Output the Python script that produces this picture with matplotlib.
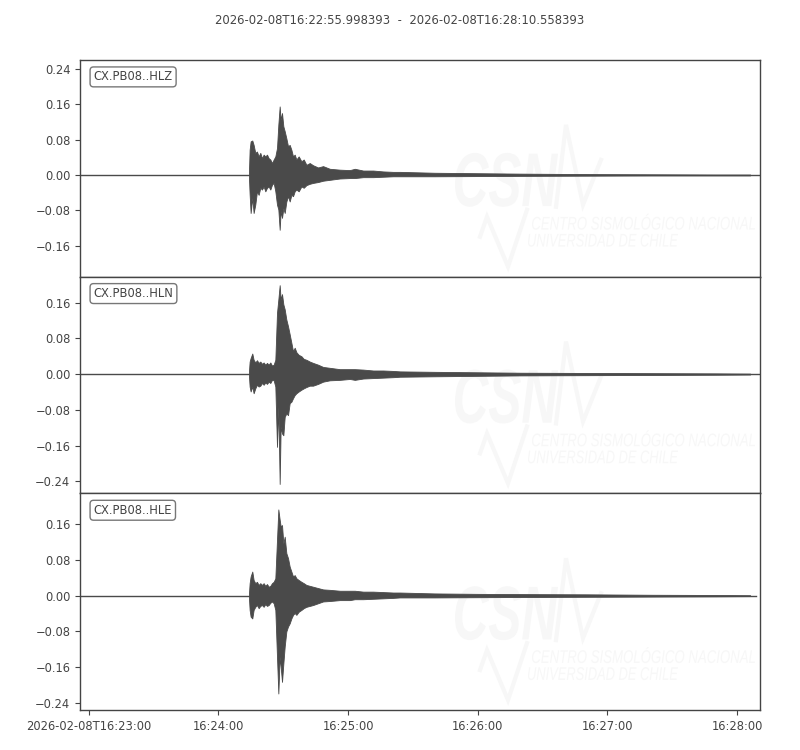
import matplotlib
matplotlib.use("Agg")
import matplotlib.pyplot as plt
from matplotlib.textpath import TextPath
from matplotlib.patches import PathPatch
from matplotlib.font_manager import FontProperties
from matplotlib.transforms import Affine2D
from matplotlib.ticker import FuncFormatter

# ---------------- data (seconds relative to 16:23:00) ----------------
title = "2026-02-08T16:22:55.998393  -  2026-02-08T16:28:10.558393"
channels = ["CX.PB08..HLZ", "CX.PB08..HLN", "CX.PB08..HLE"]
trace_start = [-4.0, -4.0, -4.0]
trace_end = [310.56, 310.56, 308.8]

times_s = [74.16, 74.47, 74.93, 75.70, 76.32, 77.09, 77.86, 78.64, 79.41, 80.18,
           80.95, 81.73, 82.50, 83.27, 84.04, 84.82, 85.59, 86.36, 87.13, 87.75,
           88.37, 88.83, 89.45, 90.07, 90.69, 91.46, 92.23, 93.00, 93.78, 94.55,
           95.32, 96.09, 97.17, 98.41, 99.49, 100.73, 102.27, 103.81, 106.13, 108.45,
           111.54, 116.17, 120.81, 123.12, 126.98, 131.62, 136.25, 140.88, 143.98,
           160.0, 180.0, 200.0, 230.0, 260.0, 290.0, 306.0]

hlz_upper = [0.008, 0.057, 0.076, 0.078, 0.068, 0.050, 0.053, 0.042, 0.050, 0.038,
             0.046, 0.042, 0.046, 0.038, 0.035, 0.027, 0.035, 0.042, 0.061, 0.114,
             0.155, 0.125, 0.140, 0.110, 0.099, 0.083, 0.065, 0.068, 0.057, 0.042,
             0.046, 0.035, 0.042, 0.031, 0.035, 0.023, 0.027, 0.022, 0.017, 0.020,
             0.014, 0.012, 0.011, 0.014, 0.010, 0.010, 0.008, 0.007, 0.007,
             0.005, 0.004, 0.003, 0.002, 0.0015, 0.001, 0.001]
hlz_lower = [-0.007, -0.044, -0.086, -0.052, -0.086, -0.067, -0.037, -0.045, -0.029, -0.033,
             -0.026, -0.037, -0.029, -0.026, -0.033, -0.022, -0.018, -0.037, -0.067, -0.078,
             -0.124, -0.082, -0.097, -0.075, -0.086, -0.060, -0.048, -0.060, -0.045, -0.048,
             -0.037, -0.033, -0.037, -0.026, -0.029, -0.023, -0.020, -0.018, -0.016, -0.013,
             -0.011, -0.008, -0.007, -0.007, -0.005, -0.005, -0.004, -0.003, -0.003,
             -0.003, -0.0025, -0.002, -0.0015, -0.001, -0.001, -0.001]

hln_upper = [0.006, 0.028, 0.036, 0.046, 0.032, 0.026, 0.031, 0.025, 0.028, 0.023,
             0.026, 0.021, 0.025, 0.021, 0.026, 0.019, 0.021, 0.032, 0.137, 0.167,
             0.199, 0.167, 0.179, 0.156, 0.145, 0.122, 0.107, 0.089, 0.070, 0.051,
             0.059, 0.049, 0.043, 0.040, 0.034, 0.032, 0.028, 0.025, 0.021, 0.016,
             0.014, 0.011, 0.011, 0.011, 0.010, 0.008, 0.008, 0.007, 0.006,
             0.005, 0.004, 0.003, 0.0025, 0.002, 0.0015, 0.001]
hln_lower = [-0.005, -0.028, -0.039, -0.028, -0.043, -0.032, -0.024, -0.028, -0.026, -0.020,
             -0.024, -0.019, -0.022, -0.017, -0.020, -0.013, -0.014, -0.028, -0.163, -0.073,
             -0.246, -0.118, -0.133, -0.137, -0.096, -0.088, -0.092, -0.065, -0.062, -0.054,
             -0.047, -0.043, -0.039, -0.035, -0.032, -0.029, -0.026, -0.026, -0.022, -0.017,
             -0.014, -0.013, -0.011, -0.013, -0.010, -0.009, -0.008, -0.007, -0.006,
             -0.005, -0.004, -0.003, -0.0025, -0.002, -0.0015, -0.001]

hle_upper = [0.005, 0.028, 0.043, 0.054, 0.035, 0.028, 0.031, 0.024, 0.028, 0.024,
             0.028, 0.022, 0.026, 0.020, 0.022, 0.028, 0.031, 0.039, 0.125, 0.193,
             0.170, 0.155, 0.158, 0.117, 0.132, 0.095, 0.084, 0.065, 0.054, 0.043,
             0.046, 0.039, 0.035, 0.031, 0.028, 0.024, 0.022, 0.020, 0.017, 0.014,
             0.013, 0.011, 0.011, 0.011, 0.009, 0.009, 0.008, 0.007, 0.007,
             0.005, 0.004, 0.0035, 0.003, 0.002, 0.0015, 0.001]
hle_lower = [-0.006, -0.032, -0.047, -0.051, -0.032, -0.025, -0.021, -0.028, -0.023, -0.021,
             -0.025, -0.019, -0.023, -0.021, -0.016, -0.013, -0.017, -0.032, -0.137, -0.219,
             -0.137, -0.159, -0.193, -0.152, -0.114, -0.080, -0.069, -0.062, -0.051, -0.043,
             -0.039, -0.043, -0.036, -0.032, -0.028, -0.025, -0.023, -0.021, -0.017, -0.013,
             -0.012, -0.010, -0.010, -0.008, -0.008, -0.007, -0.006, -0.005, -0.004,
             -0.004, -0.0035, -0.003, -0.0025, -0.002, -0.0015, -0.001]

uppers = [hlz_upper, hln_upper, hle_upper]
lowers = [hlz_lower, hln_lower, hle_lower]

ylims = [(-0.23, 0.26), (-0.267, 0.218), (-0.256, 0.229)]
ytick_values = [-0.24, -0.16, -0.08, 0.0, 0.08, 0.16, 0.24]
xtick_values = [0, 60, 120, 180, 240, 300]
xtick_labels = ["2026-02-08T16:23:00", "16:24:00", "16:25:00", "16:26:00", "16:27:00", "16:28:00"]

# ---------------- style ----------------
GRAY = "#444444"
WAVE = "#4a4a4a"
WM = "#f7f7f7"
TICKSIZE = 8.3

fig = plt.figure(figsize=(8, 7.5), dpi=100)
axes = fig.subplots(3, 1, sharex=True)
fig.subplots_adjust(left=0.1, right=0.95, top=0.92, bottom=0.0533, hspace=0)

fmt = FuncFormatter(lambda v, p: ("%.2f" % (0.0 if abs(v) < 1e-9 else v)).replace("-", "\u2212"))


def add_textpath(ax, s, x0, y0, w, capfrac_h, prop, ref="CSN"):
    tp = TextPath((0, 0), s, size=1, prop=prop)
    rp = TextPath((0, 0), ref, size=1, prop=prop)
    bb = tp.get_extents()
    rb = rp.get_extents()
    sx = w / bb.width
    sy = capfrac_h / rb.height
    tr = Affine2D().translate(-bb.x0, -rb.y0).scale(sx, sy).translate(x0, y0) + ax.transAxes
    patch = PathPatch(tp, transform=tr, facecolor=WM, edgecolor="none", zorder=0.5)
    ax.add_patch(patch)


def watermark(ax):
    W, H = 680.0, 217.0

    def fx(px):
        return (px - 80) / W

    def fy(py):
        return 1 - (py - 60) / H

    bold = FontProperties(family="Liberation Sans", weight="bold", style="italic")
    light = FontProperties(family="Liberation Sans", style="italic")
    add_textpath(ax, "CSN", fx(455), fy(207), 103 / W, 54 / H, bold)
    add_textpath(ax, "CENTRO SISMOLÓGICO NACIONAL", fx(532), fy(230), 223 / W, 13 / H, light, ref="CENTRO")
    add_textpath(ax, "UNIVERSIDAD DE CHILE", fx(528), fy(247), 150 / W, 13 / H, light, ref="UNIVERSIDAD")
    ax.plot([fx(556), fx(566), fx(583), fx(601)], [fy(207), fy(125), fy(205), fy(160)],
            transform=ax.transAxes, color=WM, lw=3, zorder=0.5, solid_joinstyle="miter")
    ax.plot([fx(480), fx(487), fx(508), fx(527)], [fy(237), fy(217), fy(267), fy(210)],
            transform=ax.transAxes, color=WM, lw=3, zorder=0.5, solid_joinstyle="miter")


for i, ax in enumerate(axes):
    watermark(ax)
    ax.plot([trace_start[i], trace_end[i]], [0, 0], color=WAVE, lw=1.0, zorder=2)
    ax.fill_between(times_s, lowers[i], uppers[i], color=WAVE, lw=0.6, edgecolor=WAVE, zorder=3)
    ax.set_yticks(ytick_values)
    ax.set_ylim(*ylims[i])
    ax.yaxis.set_major_formatter(fmt)
    ax.set_xlim(-4.0, 310.56)
    for sp in ax.spines.values():
        sp.set_color(GRAY)
        sp.set_linewidth(1.0)
    ax.tick_params(axis="y", direction="out", length=3.5, width=0.8, color=GRAY,
                   labelcolor=GRAY, labelsize=TICKSIZE)
    ax.text(0.0199, 0.922, channels[i], transform=ax.transAxes, ha="left", va="center",
            fontsize=TICKSIZE, color=GRAY, zorder=5,
            bbox=dict(boxstyle="round,pad=0.3", facecolor="white", edgecolor="#777777", lw=1.0))
    if i < 2:
        ax.tick_params(axis="x", bottom=False, labelbottom=False)

axes[-1].set_xticks(xtick_values)
axes[-1].set_xticklabels(xtick_labels)
axes[-1].tick_params(axis="x", direction="out", length=3.5, width=0.8, color=GRAY,
                     labelcolor=GRAY, labelsize=TICKSIZE)

fig.text(0.5, 0.973, title, ha="center", va="center", fontsize=8.4, color=GRAY)

fig.savefig("out.png", dpi=100)
